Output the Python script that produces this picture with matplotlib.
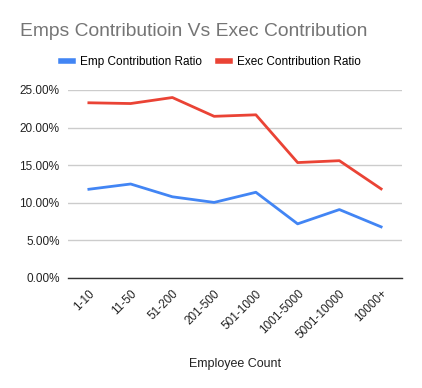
import matplotlib
matplotlib.use("Agg")
import matplotlib.pyplot as plt
from matplotlib.ticker import FuncFormatter

plt.rcParams['font.family'] = ['Liberation Sans', 'DejaVu Sans']

categories = ["1-10", "11-50", "51-200", "201-500", "501-1000", "1001-5000", "5001-10000", "10000+"]
emp_ratio = [11.8, 12.5, 10.8, 10.05, 11.4, 7.2, 9.1, 6.8]
exec_ratio = [23.3, 23.2, 24.0, 21.5, 21.7, 15.35, 15.6, 11.85]
y_ticks = [0, 5, 10, 15, 20, 25]

fig = plt.figure(figsize=(4.22, 3.88), dpi=100)
ax = fig.add_axes([68/422, 1-278/388, (402-68)/422, (278-90)/388])

x = list(range(len(categories)))
ax.plot(x, emp_ratio, color="#4285f4", lw=2, label="Emp Contribution Ratio")
ax.plot(x, exec_ratio, color="#ea4335", lw=2, label="Exec Contribution Ratio")

ax.set_xlim(-0.5, len(categories) - 0.5)
ax.set_ylim(0, 25)
ax.set_yticks(y_ticks)
ax.yaxis.set_major_formatter(FuncFormatter(lambda v, p: f"{v:.2f}%"))
ax.set_xticks(x)
ax.set_xticklabels(categories, rotation=45, ha="right", rotation_mode="anchor")
ax.tick_params(axis="both", length=0, labelsize=8.5, colors="#222222")
ax.tick_params(axis="y", pad=6)
ax.tick_params(axis="x", pad=7)
ax.grid(axis="y", color="#cccccc", lw=1)
ax.set_axisbelow(True)
for s in ["top", "right", "left"]:
    ax.spines[s].set_visible(False)
ax.spines["bottom"].set_color("#333333")
ax.spines["bottom"].set_linewidth(1)
ax.spines["bottom"].set_zorder(3)

ax.set_xlabel("Employee Count", fontsize=9, color="#222222", labelpad=12)

fig.text(20/422, 1-31/388, "Emps Contributioin Vs Exec Contribution", fontsize=13.9,
         color="#757575", va="center", ha="left")

leg = fig.legend(loc="center", bbox_to_anchor=(211/422, 1-62/388), ncol=2, frameon=False,
                 fontsize=8.5, handlelength=1.0, handletextpad=0.6, columnspacing=1.3)
for l in leg.get_lines():
    l.set_linewidth(4)

fig.savefig("out.png", dpi=100)
